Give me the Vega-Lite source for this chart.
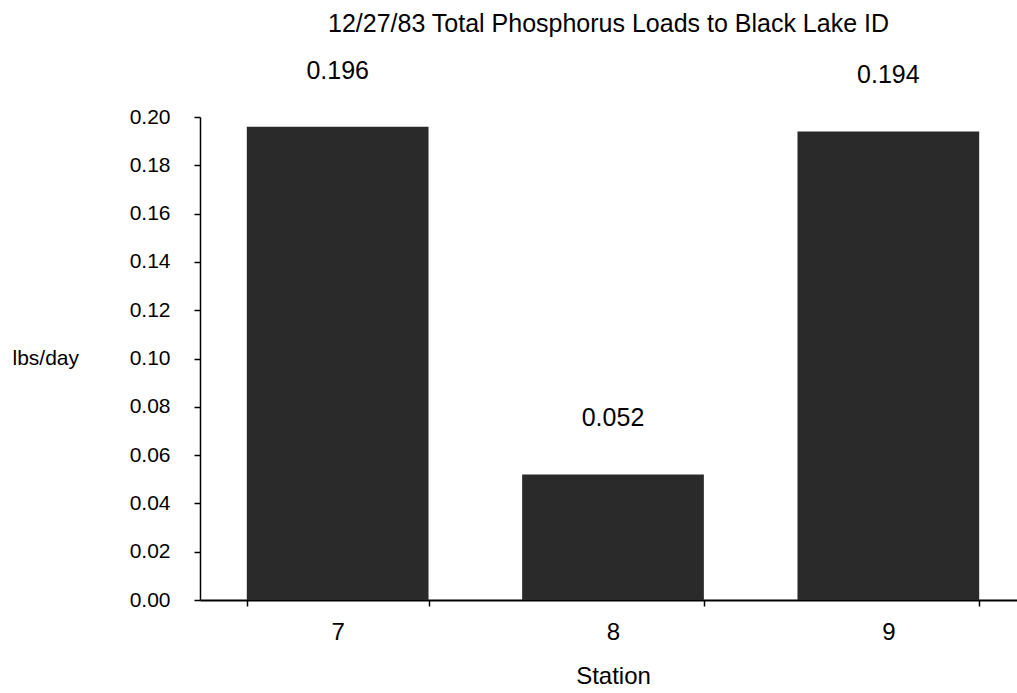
{
  "$schema": "https://vega.github.io/schema/vega-lite/v6.json",
  "autosize": {"type": "none"},
  "padding": {"left": 200, "top": 117, "right": 0, "bottom": 93},
  "width": 817,
  "height": 483,
  "background": "white",
  "config": {
    "view": {"stroke": null},
    "font": "Liberation Sans",
    "axis": {"labelFont": "Liberation Sans", "titleFont": "Liberation Sans", "labelColor": "black", "titleColor": "black", "domainColor": "black", "tickColor": "black", "titleFontWeight": "normal"}
  },
  "title": {
    "text": "12/27/83 Total Phosphorus Loads to Black Lake ID",
    "font": "Liberation Sans",
    "fontSize": 25,
    "fontWeight": "normal",
    "color": "black",
    "anchor": "middle",
    "frame": "group",
    "baseline": "alphabetic",
    "offset": 2
  },
  "data": {"values": [
    {"station": "7", "load": 0.196},
    {"station": "8", "load": 0.052},
    {"station": "9", "load": 0.194}
  ]},
  "encoding": {
    "x": {
      "field": "station", "type": "nominal", "sort": null,
      "scale": {"range": [0, 826], "paddingInner": 0.34, "paddingOuter": 0.17},
      "axis": {
        "title": "Station", "titleFontSize": 24, "titlePadding": 20,
        "labelAngle": 0, "labelFontSize": 24, "labelPadding": 14,
        "tickBand": "extent", "tickSize": 6, "tickWidth": 1.5,
        "domainWidth": 2
      }
    },
    "y": {
      "field": "load", "type": "quantitative",
      "scale": {"domain": [0, 0.2], "nice": false, "zero": true},
      "axis": {
        "title": "lbs/day", "titleFontSize": 21, "titleAngle": 0,
        "titleAlign": "left", "titleBaseline": "middle",
        "titleX": -188, "titleY": 241,
        "values": [0, 0.02, 0.04, 0.06, 0.08, 0.1, 0.12, 0.14, 0.16, 0.18, 0.2],
        "format": ".2f", "labelFontSize": 21, "labelPadding": 24,
        "tickSize": 6, "tickWidth": 1.5, "domainWidth": 1.5, "grid": false
      }
    }
  },
  "layer": [
    {"mark": {"type": "bar", "color": "#2a2a2a"}},
    {
      "mark": {"type": "text", "fontSize": 25, "baseline": "middle", "align": "center", "dy": -56, "color": "black", "font": "Liberation Sans"},
      "encoding": {"text": {"field": "load", "type": "quantitative", "format": ".3f"}}
    }
  ]
}
